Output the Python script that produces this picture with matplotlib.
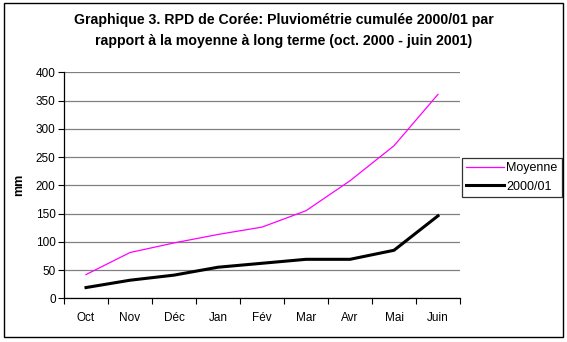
import matplotlib
matplotlib.use("Agg")
import matplotlib.pyplot as plt
from matplotlib.patches import Rectangle

months = ["Oct", "Nov", "Déc", "Jan", "Fév", "Mar", "Avr", "Mai", "Juin"]
moyenne = [42, 81, 98, 113, 126, 155, 208, 270, 361]
saison = [19, 32, 41, 55, 62, 69, 69, 85, 146]
yticks = [0, 50, 100, 150, 200, 250, 300, 350, 400]

plt.rcParams['font.family'] = ['Liberation Sans', 'DejaVu Sans']

fig = plt.figure(figsize=(5.67, 3.42), dpi=100)
W, H = 567, 342
ax = fig.add_axes([64 / W, 1 - 298.3 / H, (460 - 64) / W, (298.3 - 72.3) / H])

x = list(range(len(months)))
ax.plot(x, moyenne, color="#ff00ff", lw=0.9, label="Moyenne")
ax.plot(x, saison, color="black", lw=2.2, label="2000/01")

ax.set_xlim(-0.5, len(months) - 0.5)
ax.set_ylim(0, 400)
ax.set_yticks(yticks)
ax.set_yticklabels([str(v) for v in yticks], fontsize=8.5)
ax.set_xticks(x)
ax.set_xticklabels(months, fontsize=8.5)
ax.set_xticks([i - 0.5 for i in range(len(months) + 1)], minor=True)
ax.tick_params(axis='x', which='major', length=0, pad=10)
ax.tick_params(axis='x', which='minor', length=4, direction='out', width=0.8)
ax.tick_params(axis='y', length=4, direction='out', width=0.8, pad=2)
ax.yaxis.grid(True, color="#808080", lw=0.9)
ax.set_axisbelow(True)
for s in ["top", "right"]:
    ax.spines[s].set_visible(False)
for s in ["left", "bottom"]:
    ax.spines[s].set_linewidth(0.9)
ax.set_ylabel("mm", fontsize=9, fontweight="bold", labelpad=8)

leg = ax.legend(loc="upper left", bbox_to_anchor=(462 / W, 1 - 158 / H), bbox_transform=fig.transFigure,
                fontsize=9, frameon=True, fancybox=False, edgecolor="black", borderpad=0.35,
                handlelength=3.0, handletextpad=0.2, labelspacing=0.5, borderaxespad=0)
leg.get_frame().set_linewidth(0.9)

fig.text(0.5, 1 - 20 / H, "Graphique 3. RPD de Corée: Pluviométrie cumulée 2000/01 par",
         ha="center", va="center", fontsize=10.2, fontweight="bold")
fig.text(0.5, 1 - 41 / H, "rapport à la moyenne à long terme (oct. 2000 - juin 2001)",
         ha="center", va="center", fontsize=10.2, fontweight="bold")

fig.patches.append(Rectangle((4 / W, 1 - 337 / H), (563 - 4) / W, (337 - 3) / H,
                             transform=fig.transFigure, fill=False, edgecolor="black", lw=1))

fig.savefig("out.png", dpi=100)
